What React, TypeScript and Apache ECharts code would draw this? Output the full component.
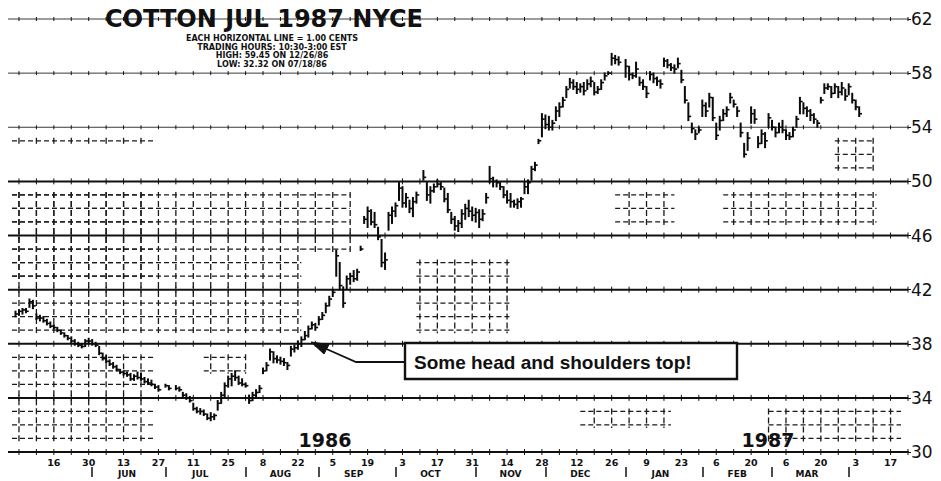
import React, { useEffect, useRef } from "react";
import * as echarts from "echarts";

// ---------- data ----------
const FIRST_DAY = "1986-04-30";
const LAST_DAY = "1987-04-24";
const LABEL_ANCHOR = "1986-05-16"; // first biweekly date label
const monthNames = ["JUN", "JUL", "AUG", "SEP", "OCT", "NOV", "DEC", "JAN", "FEB", "MAR"];
const monthMarkers = ["1986-06", "1986-07", "1986-08", "1986-09", "1986-10", "1986-11", "1986-12", "1987-01", "1987-02", "1987-03", "1987-04"];
const yMin = 30;
const yMax = 62;
const yStep = 4;
const heavyLines = [30, 34, 38, 42, 46, 50];
const lightLines = [54, 58, 62];

// daily high / low / close (cents per lb), one entry per trading day from FIRST_DAY
const highs = [
  null, 40.4, 40.5, 40.6, 40.6, 41.3, 41.2, 40.2, 40.1, 40.0,
  39.8, 39.6, 39.4, 39.2, 39.0, 38.8, 38.6, 38.5, 38.3, 38.1,
  38.0, 38.3, 38.4, 38.3, 38.1, 37.8, 37.3, 37.1, 36.8, 36.6,
  36.4, 36.1, 36.0, 35.9, 35.8, 35.7, 35.9, 35.8, 35.5, 35.4,
  35.3, 35.0, 34.9, null, 35.0, 34.9, null, 34.9, 34.8,
  34.4, 34.3, 34.1, 33.6, 33.3, 33.2, 33.1, 32.8, 32.9, 32.8,
  33.8, 34.4, 35.1, 35.6, 35.8, 36.0, 35.6, 35.4, 35.1, 34.2,
  34.4, 34.6, 34.9, 36.2, 36.6, 37.6, 37.4, 37.1, 37.0, 36.9,
  36.6, 37.8, 37.9, 38.2, 38.5, 38.9, 39.3, 39.6, 39.5, 40.0,
  40.3, 41.0, 41.5, 42.0, 44.9, 44.0, 42.2, 43.0, 43.2, 43.4,
  43.5, 45.2, 47.4, 48.1, 47.9, 47.7, 46.6, 45.7, 44.7, 47.7,
  48.1, 48.4, 49.9, 49.6, 49.1, 48.6, 48.8, 49.2, null, 50.8,
  49.9, 49.6, 49.8, 50.1, 49.9, 49.5, 49.1, 47.7, 47.4, 47.1,
  47.9, 48.3, 48.6, 48.1, 48.0, 47.9, 47.9, 49.1, 51.1, 50.3,
  50.1, 49.9, 49.6, 49.3, 49.1, 48.6, 48.7, 48.8, 49.9, 50.1,
  51.1, 51.4, 53.1, 55.0, 54.9, 54.8, 54.5, 55.5, 55.8, 56.2,
  57.0, 57.6, 57.5, 57.3, 57.2, 57.3, 57.5, 57.7, 57.3, 57.0,
  57.5, 58.0, 58.1, 59.45, 59.3, 59.2, null, 59.0, 58.5,
  58.0, 58.8, 57.7, 57.5, 57.0, 58.1, 58.0, 57.7, 57.5, 59.1,
  59.0, 58.7, 58.6, 59.1, 58.2, 57.0, 55.8, 54.3, 53.8, 54.0,
  56.0, 55.8, 56.5, 56.2, 54.3, 54.8, 55.3, 55.5, 56.5, 56.0,
  55.5, 54.3, 52.8, 53.6, 55.5, 55.3, 53.3, 53.8, 53.6, 55.0,
  54.5, 54.0, 54.3, 54.5, 53.8, 53.6, 54.0, 54.8, 56.2, 55.8,
  55.5, 55.3, 55.0, 54.5, 56.2, 57.2, 57.2, 57.0, 57.2, 57.0,
  57.3, 56.8, 57.2, 56.5, 56.0, 55.5,
];
const lows = [
  null, 40.0, 40.1, 40.2, 40.3, 40.7, 40.6, 39.8, 39.7, 39.6,
  39.4, 39.2, 39.1, 38.9, 38.7, 38.5, 38.3, 38.1, 37.9, 37.8,
  37.7, 37.8, 38.0, 37.9, 37.8, 37.2, 36.8, 36.6, 36.4, 36.2,
  36.0, 35.8, 35.7, 35.6, 35.3, 35.3, 35.4, 35.3, 35.1, 35.0,
  34.9, 34.7, 34.5, null, 34.8, 34.6, null, 34.6, 34.5,
  34.1, 33.9, 33.7, 33.1, 32.9, 32.8, 32.7, 32.4, 32.32, 32.4,
  33.1, 33.6, 34.1, 34.8, 34.9, 35.3, 35.0, 34.9, 34.8, 33.6,
  33.8, 34.1, 34.4, 35.8, 36.0, 36.8, 36.6, 36.6, 36.5, 36.4,
  36.1, 37.1, 37.4, 37.6, 37.8, 38.3, 38.5, 39.1, 39.0, 39.4,
  39.8, 40.3, 40.8, 41.5, 43.0, 42.0, 40.7, 42.0, 42.4, 42.6,
  42.7, 44.9, 46.9, 46.6, 46.8, 46.6, 45.7, 43.7, 43.5, 46.4,
  46.9, 47.4, 48.6, 48.1, 48.1, 47.7, 47.4, 48.4, null, 50.1,
  48.6, 48.4, 49.2, 49.6, 49.4, 48.5, 47.7, 46.9, 46.4, 46.3,
  46.6, 47.2, 47.4, 47.1, 47.0, 46.6, 47.1, 48.4, 49.9, 49.6,
  49.6, 49.4, 48.8, 48.4, 48.1, 48.1, 48.0, 48.1, 49.1, 49.1,
  50.1, 50.8, 52.8, 53.3, 53.9, 53.8, 53.8, 54.5, 54.8, 55.5,
  56.2, 56.9, 56.8, 56.5, 56.6, 56.4, 56.8, 57.0, 56.4, 56.5,
  56.8, 57.5, 57.9, 58.6, 58.7, 58.6, null, 57.7, 57.5,
  57.6, 57.7, 57.1, 56.8, 56.2, 57.5, 57.3, 57.1, 56.9, 58.5,
  58.4, 58.2, 58.0, 58.4, 57.3, 55.8, 54.5, 53.6, 53.1, 53.6,
  54.8, 54.8, 55.5, 54.5, 53.1, 53.8, 54.5, 54.8, 55.8, 55.5,
  54.8, 53.3, 51.8, 52.3, 54.3, 54.3, 52.5, 52.8, 52.5, 54.0,
  53.8, 53.3, 53.6, 53.6, 53.1, 53.1, 53.3, 54.0, 55.0, 55.0,
  54.8, 54.5, 54.3, 54.0, 55.8, 56.5, 56.8, 56.2, 56.5, 56.2,
  56.4, 56.0, 56.4, 55.8, 55.3, 54.8,
];
const closes = [
  null, 40.2, 40.4, 40.5, 40.4, 41.1, 40.8, 39.9, 39.9, 39.7,
  39.5, 39.3, 39.2, 39.0, 38.8, 38.6, 38.4, 38.2, 38.0, 37.9,
  37.8, 38.2, 38.2, 38.0, 37.9, 37.3, 36.9, 36.7, 36.5, 36.3,
  36.1, 35.9, 35.8, 35.7, 35.4, 35.6, 35.5, 35.4, 35.2, 35.1,
  35.0, 34.8, 34.6, null, 34.9, 34.7, null, 34.7, 34.6,
  34.2, 34.0, 33.8, 33.2, 33.0, 33.0, 32.8, 32.5, 32.6, 32.7,
  33.6, 34.2, 34.9, 35.4, 35.6, 35.5, 35.1, 35.0, 34.9, 33.8,
  34.2, 34.4, 34.7, 36.0, 36.4, 37.4, 36.9, 36.8, 36.7, 36.6,
  36.4, 37.6, 37.7, 38.0, 38.3, 38.6, 39.1, 39.4, 39.2, 39.8,
  40.1, 40.8, 41.3, 41.8, 44.5, 42.3, 41.0, 42.8, 43.0, 42.8,
  43.3, 45.0, 47.2, 47.8, 47.0, 46.8, 45.9, 44.0, 44.2, 47.5,
  47.8, 48.2, 49.5, 48.4, 48.8, 48.0, 48.5, 49.0, null, 50.3,
  49.0, 49.3, 49.6, 49.8, 49.6, 48.7, 47.9, 47.2, 46.7, 46.9,
  47.6, 48.0, 47.8, 47.5, 47.7, 47.2, 47.6, 48.8, 50.2, 50.0,
  49.9, 49.6, 49.0, 48.6, 48.5, 48.3, 48.5, 48.7, 49.6, 49.9,
  50.9, 51.2, 53.0, 54.6, 54.2, 54.0, 54.3, 55.2, 55.5, 56.0,
  56.8, 57.3, 57.0, 56.8, 57.0, 56.7, 57.2, 57.4, 56.6, 56.8,
  57.3, 57.8, 58.0, 59.1, 59.0, 58.8, null, 58.5, 57.9,
  57.8, 58.3, 57.3, 57.0, 56.5, 57.9, 57.6, 57.4, 57.2, 58.9,
  58.6, 58.4, 58.3, 58.7, 57.5, 56.0, 54.8, 53.9, 53.5, 53.8,
  55.6, 55.2, 56.2, 54.7, 53.4, 54.5, 55.0, 55.3, 56.2, 55.7,
  55.2, 53.6, 52.0, 53.2, 55.0, 54.6, 52.8, 53.5, 53.0, 54.7,
  54.0, 53.6, 54.0, 53.8, 53.4, 53.3, 53.8, 54.6, 55.9, 55.4,
  55.2, 54.9, 54.6, 54.3, 56.0, 56.9, 57.0, 56.5, 57.0, 56.6,
  56.9, 56.3, 57.0, 56.0, 55.5, 55.0,
];

// faint 1-cent chart-paper grid patches (trading-day index range x cent range)
const paperFrom = [0, 0, 0, 0, 83, 55, 116, 173, 204, 236, 163, 217];
const paperTo = [41, 83, 41, 41, 97, 67, 143, 190, 248, 247, 189, 255];
const paperLow = [31, 39, 43, 53, 45, 36, 39, 47, 47, 51, 32, 31];
const paperHigh = [37, 49, 49, 53, 49, 37, 44, 49, 49, 53, 33, 33];

const titleText = "COTTON JUL 1987 NYCE";
const subtitleLines = [
  "EACH HORIZONTAL LINE = 1.00 CENTS",
  "TRADING HOURS: 10:30-3:00 EST",
  "HIGH: 59.45 ON 12/26/86",
  "LOW: 32.32 ON 07/18/86",
];
const yearLabels = ["1986", "1987"];
const noteText = "Some head and shoulders top!";

// ---------- helpers ----------
function tradingDays(): string[] {
  const out: string[] = [];
  const d = new Date(FIRST_DAY + "T00:00:00Z");
  const end = new Date(LAST_DAY + "T00:00:00Z");
  while (d.getTime() <= end.getTime()) {
    const wd = d.getUTCDay();
    if (wd !== 0 && wd !== 6) out.push(d.toISOString().slice(0, 10));
    d.setUTCDate(d.getUTCDate() + 1);
  }
  return out;
}

export default function App() {
  const ref = useRef<HTMLDivElement>(null);

  useEffect(() => {
    if (!ref.current) return;
    const chart = echarts.init(ref.current, undefined, { renderer: "svg" });

    const days = tradingDays();
    const anchor = Date.parse(LABEL_ANCHOR + "T00:00:00Z");
    const dayDiff = (s: string) => Math.round((Date.parse(s + "T00:00:00Z") - anchor) / 86400000);
    const fridays: number[] = [];
    const biweekly = new Set<number>();
    days.forEach((s, i) => {
      const wd = new Date(s + "T00:00:00Z").getUTCDay();
      if (wd === 5) fridays.push(i);
      const df = dayDiff(s);
      if (df >= 0 && df % 14 === 0) biweekly.add(i);
    });
    const monthStart = new Set<number>();
    const monthLabelAt = new Map<number, string>();
    monthMarkers.forEach((m, k) => {
      const idx = days.findIndex((s) => s.slice(0, 7) === m);
      if (idx >= 0) {
        monthStart.add(idx);
        if (k < monthNames.length) monthLabelAt.set(idx + 10, monthNames[k]);
      }
    });

    const barData: number[][] = [];
    highs.forEach((h, i) => {
      if (h != null && lows[i] != null && closes[i] != null) barData.push([i, h as number, lows[i] as number, closes[i] as number]);
    });
    const paperData = paperFrom.map((f, k) => [f, paperTo[k], paperLow[k], paperHigh[k]]);
    const ruleData = [...heavyLines, ...lightLines].map((v) => [0, v]);
    const lastIdx = days.length - 1;

    const renderPaper = (params: any, api: any) => {
      const from = api.value(0), to = api.value(1), lo = api.value(2), hi = api.value(3);
      const children: any[] = [];
      for (let c = lo; c <= hi; c++) {
        if ((c - yMin) % yStep === 0) continue;
        const a = api.coord([from, c]);
        const b = api.coord([to, c]);
        children.push({
          type: "line",
          shape: { x1: a[0], y1: a[1], x2: b[0], y2: b[1] },
          style: { stroke: "#1a1a1a", lineWidth: 1.3, lineDash: [5, 3] },
        });
      }
      fridays.forEach((f) => {
        if (f < from || f > to) return;
        const a = api.coord([f, hi]);
        const b = api.coord([f, lo]);
        children.push({
          type: "line",
          shape: { x1: a[0], y1: a[1] - 3, x2: b[0], y2: b[1] + 3 },
          style: { stroke: "#1a1a1a", lineWidth: 1.3, lineDash: [6, 3] },
        });
      });
      return { type: "group", children };
    };

    const renderRule = (params: any, api: any) => {
      const v = api.value(1);
      const heavy = heavyLines.indexOf(v) >= 0;
      const a = api.coord([0, v]);
      const b = api.coord([lastIdx, v]);
      const children: any[] = [
        {
          type: "line",
          shape: { x1: a[0] - 4, y1: a[1], x2: b[0], y2: b[1] },
          style: { stroke: heavy ? "#111" : "#3a3a3a", lineWidth: heavy ? 2 : 1 },
        },
      ];
      fridays.forEach((f) => {
        const p = api.coord([f, v]);
        children.push({
          type: "line",
          shape: { x1: p[0], y1: p[1] - (heavy ? 3 : 2), x2: p[0], y2: p[1] + (heavy ? 3 : 2) },
          style: { stroke: "#111", lineWidth: 1 },
        });
      });
      return { type: "group", children };
    };

    const renderBar = (params: any, api: any) => {
      const i = api.value(0), h = api.value(1), l = api.value(2), c = api.value(3);
      const top = api.coord([i, h]);
      const bot = api.coord([i, l]);
      const cl = api.coord([i, c]);
      return {
        type: "group",
        children: [
          {
            type: "line",
            shape: { x1: top[0], y1: top[1] - 0.6, x2: bot[0], y2: bot[1] + 0.6 },
            style: { stroke: "#0a0a0a", lineWidth: 2 },
          },
          {
            type: "line",
            shape: { x1: cl[0], y1: cl[1], x2: cl[0] + 2.8, y2: cl[1] },
            style: { stroke: "#0a0a0a", lineWidth: 1.6 },
          },
        ],
      };
    };

    const txt = (text: string, x: number, y: number, font: string, align = "center", z = 10) => ({
      type: "text",
      x,
      y,
      z,
      style: {
        text,
        font,
        fill: "#111",
        align,
        verticalAlign: "middle",
        textAlign: align,
        textVerticalAlign: "middle",
      },
    });

    const option: any = {
      animation: false,
      backgroundColor: "#ffffff",
      grid: { left: 12, right: 33, top: 19, bottom: 29, containLabel: false },
      xAxis: [
        {
          type: "category",
          data: days,
          boundaryGap: false,
          axisLine: { show: true, lineStyle: { color: "#111", width: 2 } },
          axisTick: { show: false },
          splitLine: { show: false },
          axisLabel: {
            interval: (i: number) => biweekly.has(i),
            formatter: (v: string) => String(Number(v.slice(8, 10))),
            margin: 5,
            fontSize: 9.5,
            fontWeight: "bold",
            fontFamily: "DejaVu Sans",
            color: "#111",
          },
        },
        {
          type: "category",
          data: days,
          boundaryGap: false,
          position: "bottom",
          offset: 15,
          axisLine: { show: false },
          axisTick: {
            show: true,
            interval: (i: number) => monthStart.has(i),
            length: 10,
            lineStyle: { color: "#111", width: 1.5 },
          },
          splitLine: { show: false },
          axisLabel: {
            interval: (i: number) => monthLabelAt.has(i),
            formatter: (v: string, i: number) => monthLabelAt.get(i) || "",
            margin: 2,
            fontSize: 9,
            fontWeight: "bold",
            fontFamily: "DejaVu Sans",
            color: "#111",
          },
        },
      ],
      yAxis: {
        type: "value",
        position: "right",
        min: yMin,
        max: yMax,
        interval: yStep,
        axisLine: { show: false },
        axisTick: { show: true, length: 3, lineStyle: { color: "#111" } },
        splitLine: { show: false },
        axisLabel: { margin: 3, fontSize: 17, color: "#111", fontFamily: "DejaVu Sans" },
      },
      series: [
        { type: "custom", name: "paper", silent: true, z: 1, renderItem: renderPaper, data: paperData, encode: { x: 0, y: 2 } },
        { type: "custom", name: "rules", silent: true, z: 2, renderItem: renderRule, data: ruleData, encode: { x: 0, y: 1 } },
        { type: "custom", name: "COTTON JUL 1987", z: 5, renderItem: renderBar, data: barData, encode: { x: 0, y: [1, 2, 3] } },
      ],
      graphic: [
        txt(titleText, 264, 19, 'bold 24px "DejaVu Sans"'),
        ...subtitleLines.map((s, k) => txt(s, 272, 38.5 + k * 8.5, 'bold 8px "DejaVu Sans"')),
        txt(yearLabels[0], 325, 440, 'bold 19px "DejaVu Sans"'),
        txt(yearLabels[1], 768, 440, 'bold 19px "DejaVu Sans"'),
        {
          type: "polyline",
          z: 100,
          shape: { points: [[405, 362], [356, 362], [322, 347]] },
          style: { stroke: "#111", lineWidth: 1.8, fill: "none" },
        },
        {
          type: "polygon",
          z: 100,
          shape: { points: [[311, 342], [329, 344.5], [324, 354]] },
          style: { fill: "#111", stroke: "#111", lineWidth: 1 },
        },
        {
          type: "rect",
          z: 100,
          shape: { x: 405, y: 343, width: 332, height: 36 },
          style: { fill: "#ffffff", stroke: "#111", lineWidth: 2.4 },
        },
        txt(noteText, 414, 362, 'bold 19px "Liberation Sans"', "left", 101),
      ],
    };

    chart.setOption(option);
    return () => chart.dispose();
  }, []);

  return (
    <div
      ref={ref}
      style={{ position: "fixed", left: 0, top: 0, width: 941, height: 481, background: "#fff" }}
    />
  );
}
